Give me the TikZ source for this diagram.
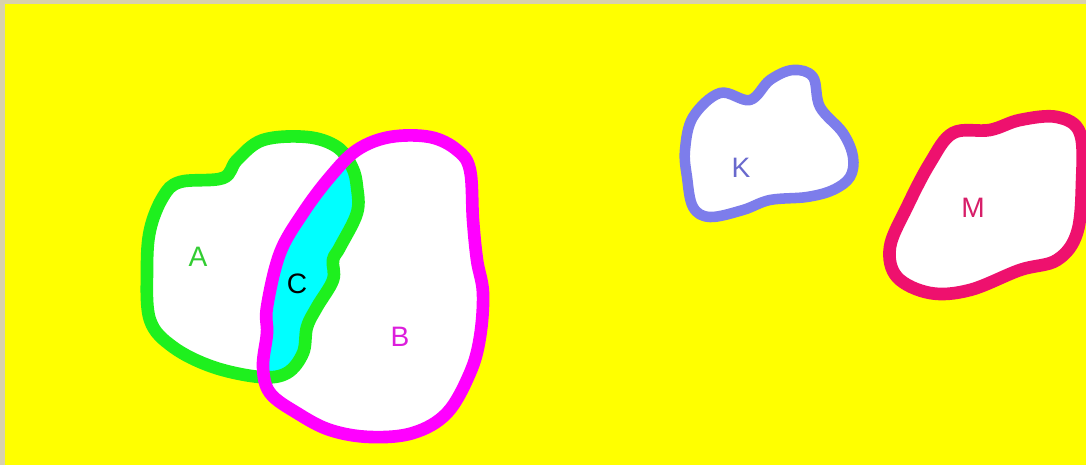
\documentclass[tikz,border=0pt]{standalone}
\usepackage{fontspec}
\setmainfont{Liberation Sans}
\usepackage{xcolor}
\definecolor{paper}{RGB}{216,209,172}
\definecolor{bgyellow}{RGB}{255,255,0}
\definecolor{lapcyan}{RGB}{0,255,255}
\definecolor{lineA}{RGB}{30,240,30}
\definecolor{textA}{RGB}{50,205,50}
\definecolor{lineB}{RGB}{255,0,255}
\definecolor{textB}{RGB}{220,30,220}
\definecolor{lineK}{RGB}{125,125,235}
\definecolor{textK}{RGB}{105,105,205}
\definecolor{lineM}{RGB}{238,17,110}
\definecolor{textM}{RGB}{215,30,105}

\def\setA{plot[smooth cycle, tension=0.6] coordinates {(150,230) (163,197) (180,182) (223,178) (237,160) (263,140) (307,137) (337,147) (352,167) (357,187) (357,213) (340,247) (333,260) (333,280) (317,307) (307,327) (303,353) (287,373) (260,377) (213,367) (173,347) (150,320) (147,270)}}
\def\setB{plot[smooth cycle, tension=0.6] coordinates {(267,307) (280,253) (303,213) (330,177) (357,150) (390,137) (430,137) (457,150) (470,170) (473,220) (477,260) (483,293) (480,337) (470,373) (447,413) (413,433) (370,437) (330,430) (297,413) (270,393) (263,367) (267,333)}}
\def\setK{plot[smooth cycle, tension=0.6] coordinates {(693,117) (720,93) (750,100) (770,80) (793,70) (813,77) (820,107) (843,133) (853,157) (850,177) (833,190) (807,197) (770,200) (743,210) (710,217) (693,207) (687,177) (685,150)}}
\def\setM{plot[smooth cycle, tension=0.6] coordinates {(953,133) (990,130) (1020,120) (1057,117) (1080,133) (1082,183) (1077,233) (1057,260) (1020,270) (970,290) (930,293) (897,277) (890,247) (907,207) (930,163)}}

\tikzset{
  outline/.style={line width=7.2pt, line join=round},
  letter/.style={font=\fontsize{16}{18}\selectfont}
}

\begin{document}
\begin{tikzpicture}[x=0.02cm, y=-0.02cm]
\useasboundingbox (0,0) rectangle (1086,465);
\fill[paper] (0,0) rectangle (1086,465);
\fill[bgyellow] (5,4) rectangle (1086,465);

\fill[white] \setA;
\fill[white] \setB;
\begin{scope}
\clip \setA;
\fill[lapcyan] \setB;
\end{scope}
\draw[outline, lineA] \setA;
\draw[outline, lineB] \setB;

\fill[white] \setK;
\draw[outline, lineK, line width=6pt] \setK;
\fill[white] \setM;
\draw[outline, lineM] \setM;

\node[letter, textA] (labA) at (198,257) {A};
\node[letter, black] (labC) at (297,284) {C};
\node[letter, textB] (labB) at (400,337) {B};
\node[letter, textK] (labK) at (741,168) {K};
\node[letter, textM] (labM) at (973,208) {M};
\end{tikzpicture}
\end{document}
